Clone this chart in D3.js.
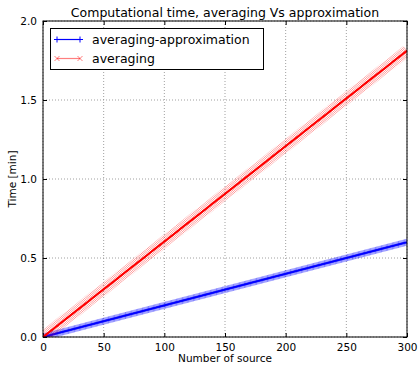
<!DOCTYPE html>
<html><head><meta charset="utf-8">
<script src="https://cdn.jsdelivr.net/npm/d3@7"></script>
<style>body{margin:0;background:#fff}svg{display:block}text{font-family:"DejaVu Sans",sans-serif}</style>
</head><body><div id="c"></div>
<script>
const title = "Computational time, averaging Vs approximation";
const xLabel = "Number of source";
const yLabel = "Time [min]";
const seriesNames = ["averaging-approximation", "averaging"];
const xTicks = [0, 50, 100, 150, 200, 250, 300];
const yTicks = [0.0, 0.5, 1.0, 1.5, 2.0];
const sources = [0,1,2,3,4,5,6,7,8,9,10,11,12,13,14,15,16,17,18,19,20,21,22,23,24,25,26,27,28,29,30,31,32,33,34,35,36,37,38,39,40,41,42,43,44,45,46,47,48,49,50,51,52,53,54,55,56,57,58,59,60,61,62,63,64,65,66,67,68,69,70,71,72,73,74,75,76,77,78,79,80,81,82,83,84,85,86,87,88,89,90,91,92,93,94,95,96,97,98,99,100,101,102,103,104,105,106,107,108,109,110,111,112,113,114,115,116,117,118,119,120,121,122,123,124,125,126,127,128,129,130,131,132,133,134,135,136,137,138,139,140,141,142,143,144,145,146,147,148,149,150,151,152,153,154,155,156,157,158,159,160,161,162,163,164,165,166,167,168,169,170,171,172,173,174,175,176,177,178,179,180,181,182,183,184,185,186,187,188,189,190,191,192,193,194,195,196,197,198,199,200,201,202,203,204,205,206,207,208,209,210,211,212,213,214,215,216,217,218,219,220,221,222,223,224,225,226,227,228,229,230,231,232,233,234,235,236,237,238,239,240,241,242,243,244,245,246,247,248,249,250,251,252,253,254,255,256,257,258,259,260,261,262,263,264,265,266,267,268,269,270,271,272,273,274,275,276,277,278,279,280,281,282,283,284,285,286,287,288,289,290,291,292,293,294,295,296,297,298,299,300];
const avgApprox = [0,.002,.004,.006,.008,.01,.012,.014,.016,.018,.02,.022,.024,.026,.028,.03,.032,.034,.036,.038,.04,.042,.044,.046,.048,.05,.052,.054,.056,.058,.06,.062,.064,.066,.068,.07,.072,.074,.076,.078,.08,.082,.084,.086,.088,.09,.092,.094,.096,.098,.1,.102,.104,.106,.108,.11,.112,.114,.116,.118,.12,.122,.124,.126,.128,.13,.132,.134,.136,.138,.14,.142,.144,.146,.148,.15,.152,.154,.156,.158,.16,.162,.164,.166,.168,.17,.172,.174,.176,.178,.18,.182,.184,.186,.188,.19,.192,.194,.196,.198,.2,.202,.204,.206,.208,.21,.212,.214,.216,.218,.22,.222,.224,.226,.228,.23,.232,.234,.236,.238,.24,.242,.244,.246,.248,.25,.252,.254,.256,.258,.26,.262,.264,.266,.268,.27,.272,.274,.276,.278,.28,.282,.284,.286,.288,.29,.292,.294,.296,.298,.3,.302,.304,.306,.308,.31,.312,.314,.316,.318,.32,.322,.324,.326,.328,.33,.332,.334,.336,.338,.34,.342,.344,.346,.348,.35,.352,.354,.356,.358,.36,.362,.364,.366,.368,.37,.372,.374,.376,.378,.38,.382,.384,.386,.388,.39,.392,.394,.396,.398,.4,.402,.404,.406,.408,.41,.412,.414,.416,.418,.42,.422,.424,.426,.428,.43,.432,.434,.436,.438,.44,.442,.444,.446,.448,.45,.452,.454,.456,.458,.46,.462,.464,.466,.468,.47,.472,.474,.476,.478,.48,.482,.484,.486,.488,.49,.492,.494,.496,.498,.5,.502,.504,.506,.508,.51,.512,.514,.516,.518,.52,.522,.524,.526,.528,.53,.532,.534,.536,.538,.54,.542,.544,.546,.548,.55,.552,.554,.556,.558,.56,.562,.564,.566,.568,.57,.572,.574,.576,.578,.58,.582,.584,.586,.588,.59,.592,.594,.596,.598,.6];
const averaging = [0,.006,.012,.018,.024,.03,.036,.042,.048,.054,.06,.066,.072,.079,.085,.091,.097,.103,.109,.115,.121,.127,.133,.139,.145,.151,.157,.163,.169,.175,.181,.187,.193,.199,.205,.211,.217,.223,.23,.236,.242,.248,.254,.26,.266,.272,.278,.284,.29,.296,.302,.308,.314,.32,.326,.332,.338,.344,.35,.356,.362,.368,.374,.381,.387,.393,.399,.405,.411,.417,.423,.429,.435,.441,.447,.453,.459,.465,.471,.477,.483,.489,.495,.501,.507,.513,.519,.525,.532,.538,.544,.55,.556,.562,.568,.574,.58,.586,.592,.598,.604,.61,.616,.622,.628,.634,.64,.646,.652,.658,.664,.67,.676,.683,.689,.695,.701,.707,.713,.719,.725,.731,.737,.743,.749,.755,.761,.767,.773,.779,.785,.791,.797,.803,.809,.815,.821,.827,.834,.84,.846,.852,.858,.864,.87,.876,.882,.888,.894,.9,.906,.912,.918,.924,.93,.936,.942,.948,.954,.96,.966,.972,.978,.985,.991,.997,1.003,1.009,1.015,1.021,1.027,1.033,1.039,1.045,1.051,1.057,1.063,1.069,1.075,1.081,1.087,1.093,1.099,1.105,1.111,1.117,1.123,1.129,1.136,1.142,1.148,1.154,1.16,1.166,1.172,1.178,1.184,1.19,1.196,1.202,1.208,1.214,1.22,1.226,1.232,1.238,1.244,1.25,1.256,1.262,1.268,1.274,1.28,1.287,1.293,1.299,1.305,1.311,1.317,1.323,1.329,1.335,1.341,1.347,1.353,1.359,1.365,1.371,1.377,1.383,1.389,1.395,1.401,1.407,1.413,1.419,1.425,1.431,1.438,1.444,1.45,1.456,1.462,1.468,1.474,1.48,1.486,1.492,1.498,1.504,1.51,1.516,1.522,1.528,1.534,1.54,1.546,1.552,1.558,1.564,1.57,1.576,1.582,1.589,1.595,1.601,1.607,1.613,1.619,1.625,1.631,1.637,1.643,1.649,1.655,1.661,1.667,1.673,1.679,1.685,1.691,1.697,1.703,1.709,1.715,1.721,1.727,1.733,1.74,1.746,1.752,1.758,1.764,1.77,1.776,1.782,1.788,1.794,1.8,1.806,1.812];

const W = 419, H = 365;
const m = {left: 43, right: 407, top: 21, bottom: 337};
const svg = d3.select("#c").append("svg").attr("width", W).attr("height", H);
const x = d3.scaleLinear().domain([0, 300]).range([m.left, m.right]);
const y = d3.scaleLinear().domain([0, 2]).range([m.bottom, m.top]);

// grid
const grid = svg.append("g");
xTicks.forEach(t => grid.append("line").attr("x1", x(t)).attr("x2", x(t)).attr("y1", m.top).attr("y2", m.bottom)
  .attr("stroke", "#888").attr("stroke-width", 0.8).attr("stroke-dasharray", "1,2"));
yTicks.forEach(t => grid.append("line").attr("y1", y(t)).attr("y2", y(t)).attr("x1", m.left).attr("x2", m.right)
  .attr("stroke", "#888").attr("stroke-width", 0.8).attr("stroke-dasharray", "1,2"));

// axes (inward ticks, on all four sides)
const fmtY = d3.format(".1f");
svg.append("g").attr("transform", `translate(0,${m.bottom})`)
  .call(d3.axisBottom(x).tickValues(xTicks).tickSizeInner(-4).tickSizeOuter(0).tickPadding(7))
  .call(g => g.select(".domain").remove());
svg.append("g").attr("transform", `translate(0,${m.top})`)
  .call(d3.axisTop(x).tickValues(xTicks).tickSizeInner(-4).tickSizeOuter(0).tickFormat(""))
  .call(g => g.select(".domain").remove());
svg.append("g").attr("transform", `translate(${m.left},0)`)
  .call(d3.axisLeft(y).tickValues(yTicks).tickFormat(fmtY).tickSizeInner(-4).tickSizeOuter(0).tickPadding(6))
  .call(g => g.select(".domain").remove());
svg.append("g").attr("transform", `translate(${m.right},0)`)
  .call(d3.axisRight(y).tickValues(yTicks).tickSizeInner(-4).tickSizeOuter(0).tickFormat(""))
  .call(g => g.select(".domain").remove());
svg.selectAll(".tick text").attr("font-size", 10.5).attr("fill", "#000").attr("font-family", "DejaVu Sans");
svg.selectAll(".tick line").attr("stroke", "#000");

const plot = svg.append("g");
plot.append("defs").append("clipPath").attr("id", "clip").append("rect")
  .attr("x", m.left).attr("y", m.top).attr("width", m.right - m.left).attr("height", m.bottom - m.top);
const pg = plot.append("g").attr("clip-path", "url(#clip)");

const line = d3.line().x(d => x(d[0])).y(d => y(d[1]));
const blueData = sources.map((s, i) => [s, avgApprox[i]]);
const redData = sources.map((s, i) => [s, averaging[i]]);
const ms = 3.5;

// blue + markers
const bg = pg.append("g");
bg.selectAll("path.m").data(blueData).join("path")
  .attr("d", d => `M${x(d[0]) - ms},${y(d[1])}H${x(d[0]) + ms}M${x(d[0])},${y(d[1]) - ms}V${y(d[1]) + ms}`)
  .attr("stroke", "blue").attr("stroke-width", 0.9).attr("stroke-opacity", 0.55).attr("fill", "none");
bg.append("path").datum(blueData).attr("d", line).attr("stroke", "blue").attr("stroke-width", 1.5).attr("fill", "none");

// red x markers
const rg = pg.append("g");
const rs = 4;
rg.selectAll("path.m").data(redData).join("path")
  .attr("d", d => `M${x(d[0]) - rs},${y(d[1]) - rs}L${x(d[0]) + rs},${y(d[1]) + rs}M${x(d[0]) - rs},${y(d[1]) + rs}L${x(d[0]) + rs},${y(d[1]) - rs}`)
  .attr("stroke", "red").attr("stroke-width", 1).attr("stroke-opacity", 0.4).attr("fill", "none");
rg.append("path").datum(redData).attr("d", line).attr("stroke", "red").attr("stroke-width", 2).attr("fill", "none");

// frame
svg.append("rect").attr("x", m.left).attr("y", m.top).attr("width", m.right - m.left).attr("height", m.bottom - m.top)
  .attr("fill", "none").attr("stroke", "#000").attr("stroke-width", 1);

// title and labels
svg.append("text").attr("x", (m.left + m.right) / 2).attr("y", 17).attr("text-anchor", "middle")
  .attr("font-size", 12.5).text(title);
svg.append("text").attr("x", (m.left + m.right) / 2).attr("y", 362).attr("text-anchor", "middle")
  .attr("font-size", 10.5).text(xLabel);
svg.append("text").attr("transform", `translate(16,${(m.top + m.bottom) / 2}) rotate(-90)`).attr("text-anchor", "middle")
  .attr("font-size", 10.5).text(yLabel);

// legend
const lg = svg.append("g");
lg.append("rect").attr("x", 50.5).attr("y", 28.5).attr("width", 213).attr("height", 41)
  .attr("fill", "#fff").attr("stroke", "#000").attr("stroke-width", 1);
const legendRows = [
  {name: seriesNames[0], color: "blue", op: 1, mk: "+"},
  {name: seriesNames[1], color: "red", op: 0.5, mk: "x"}
];
legendRows.forEach((r, i) => {
  const yy = 39.5 + i * 19;
  lg.append("line").attr("x1", 57).attr("x2", 80).attr("y1", yy).attr("y2", yy)
    .attr("stroke", r.color).attr("stroke-opacity", r.op).attr("stroke-width", 1.2);
  [57, 80].forEach(px => {
    const dpath = r.mk === "+" ? `M${px - 3},${yy}H${px + 3}M${px},${yy - 3}V${yy + 3}`
      : `M${px - 2.5},${yy - 2.5}L${px + 2.5},${yy + 2.5}M${px - 2.5},${yy + 2.5}L${px + 2.5},${yy - 2.5}`;
    lg.append("path").attr("d", dpath).attr("stroke", r.color).attr("stroke-opacity", r.op).attr("stroke-width", 1);
  });
  lg.append("text").attr("x", 92).attr("y", yy).attr("dy", "0.35em").attr("font-size", 12.5).text(r.name);
});
</script></body></html>
